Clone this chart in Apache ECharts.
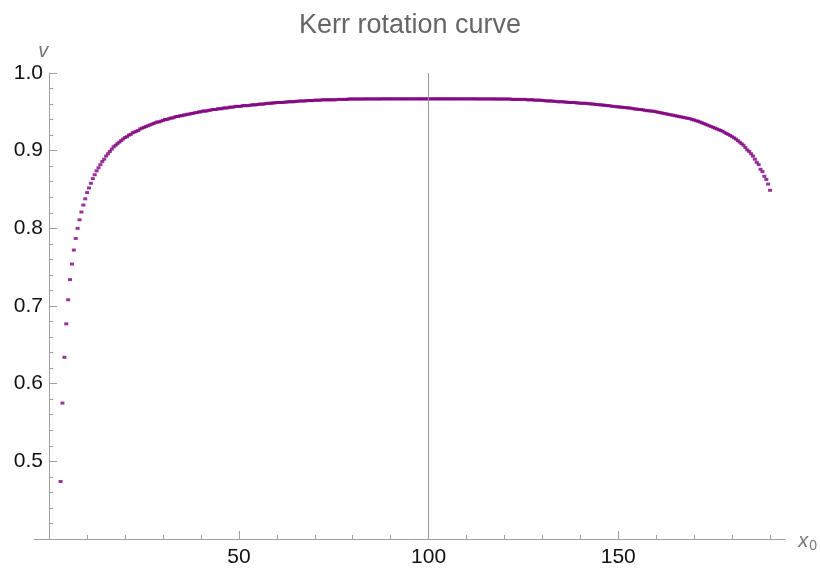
<!DOCTYPE html>
<html>
<head>
<meta charset="utf-8">
<title>Kerr rotation curve</title>
<script src="https://cdn.jsdelivr.net/npm/echarts@6/dist/echarts.min.js"></script>
<style>
  html, body { margin: 0; padding: 0; background: #fff; }
  #chart { width: 820px; height: 570px; }
</style>
</head>
<body>
<div id="chart"></div>
<script>
// Orbital radius x0 of each sample
const x0 = [
  3,3.5,4,4.5,5,5.5,6,6.5,7,7.5,
  8,8.5,9,9.5,10,10.5,11,11.5,12,12.5,
  13,13.5,14,14.5,15,15.5,16,16.5,17,17.5,
  18,18.5,19,19.5,20,20.5,21,21.5,22,22.5,
  23,23.5,24,24.5,25,25.5,26,26.5,27,27.5,
  28,28.5,29,29.5,30,30.5,31,31.5,32,32.5,
  33,33.5,34,34.5,35,35.5,36,36.5,37,37.5,
  38,38.5,39,39.5,40,40.5,41,41.5,42,42.5,
  43,43.5,44,44.5,45,45.5,46,46.5,47,47.5,
  48,48.5,49,49.5,50,50.5,51,51.5,52,52.5,
  53,53.5,54,54.5,55,55.5,56,56.5,57,57.5,
  58,58.5,59,59.5,60,60.5,61,61.5,62,62.5,
  63,63.5,64,64.5,65,65.5,66,66.5,67,67.5,
  68,68.5,69,69.5,70,70.5,71,71.5,72,72.5,
  73,73.5,74,74.5,75,75.5,76,76.5,77,77.5,
  78,78.5,79,79.5,80,80.5,81,81.5,82,82.5,
  83,83.5,84,84.5,85,85.5,86,86.5,87,87.5,
  88,88.5,89,89.5,90,90.5,91,91.5,92,92.5,
  93,93.5,94,94.5,95,95.5,96,96.5,97,97.5,
  98,98.5,99,99.5,100,100.5,101,101.5,102,102.5,
  103,103.5,104,104.5,105,105.5,106,106.5,107,107.5,
  108,108.5,109,109.5,110,110.5,111,111.5,112,112.5,
  113,113.5,114,114.5,115,115.5,116,116.5,117,117.5,
  118,118.5,119,119.5,120,120.5,121,121.5,122,122.5,
  123,123.5,124,124.5,125,125.5,126,126.5,127,127.5,
  128,128.5,129,129.5,130,130.5,131,131.5,132,132.5,
  133,133.5,134,134.5,135,135.5,136,136.5,137,137.5,
  138,138.5,139,139.5,140,140.5,141,141.5,142,142.5,
  143,143.5,144,144.5,145,145.5,146,146.5,147,147.5,
  148,148.5,149,149.5,150,150.5,151,151.5,152,152.5,
  153,153.5,154,154.5,155,155.5,156,156.5,157,157.5,
  158,158.5,159,159.5,160,160.5,161,161.5,162,162.5,
  163,163.5,164,164.5,165,165.5,166,166.5,167,167.5,
  168,168.5,169,169.5,170,170.5,171,171.5,172,172.5,
  173,173.5,174,174.5,175,175.5,176,176.5,177,177.5,
  178,178.5,179,179.5,180,180.5,181,181.5,182,182.5,
  183,183.5,184,184.5,185,185.5,186,186.5,187,187.5,
  188,188.5,189,189.5,190
];

// Circular velocity v at each x0
const v = [
  0.474,0.575,0.634,0.677,0.708,0.734,0.754,0.772,0.787,0.800,
  0.811,0.821,0.830,0.838,0.846,0.852,0.858,0.864,0.869,0.874,
  0.878,0.882,0.886,0.889,0.893,0.896,0.899,0.902,0.905,0.907,
  0.909,0.911,0.913,0.915,0.917,0.918,0.920,0.921,0.923,0.924,
  0.925,0.926,0.928,0.929,0.930,0.931,0.932,0.933,0.934,0.935,
  0.936,0.937,0.937,0.938,0.939,0.940,0.940,0.941,0.942,0.942,
  0.943,0.944,0.944,0.945,0.945,0.946,0.946,0.947,0.947,0.948,
  0.948,0.949,0.949,0.950,0.950,0.951,0.951,0.951,0.952,0.952,
  0.953,0.953,0.953,0.954,0.954,0.954,0.955,0.955,0.955,0.956,
  0.956,0.956,0.957,0.957,0.957,0.957,0.958,0.958,0.958,0.958,
  0.9585,0.959,0.959,0.959,0.9595,0.960,0.960,0.960,0.9605,0.961,
  0.961,0.961,0.9615,0.9615,0.962,0.962,0.962,0.962,0.9625,0.9625,
  0.963,0.963,0.963,0.963,0.9635,0.9635,0.964,0.964,0.964,0.964,
  0.9645,0.9645,0.9645,0.9645,0.965,0.965,0.965,0.965,0.9655,0.9655,
  0.9655,0.9655,0.9655,0.9655,0.9655,0.9655,0.966,0.966,0.966,0.966,
  0.966,0.966,0.9665,0.9665,0.9665,0.9665,0.9665,0.9665,0.9665,0.9665,
  0.9666,0.9666,0.9666,0.9666,0.9666,0.9666,0.9666,0.9666,0.9666,0.9666,
  0.9667,0.9667,0.9667,0.9667,0.9667,0.9667,0.9667,0.9667,0.9667,0.9667,
  0.9667,0.9667,0.9667,0.9667,0.9667,0.9667,0.9667,0.9667,0.9667,0.9667,
  0.9667,0.9667,0.9667,0.9667,0.9667,0.9667,0.9667,0.9667,0.9667,0.9667,
  0.9667,0.9667,0.9667,0.9667,0.9667,0.9667,0.9667,0.9667,0.9667,0.9667,
  0.9667,0.9667,0.9667,0.9667,0.9667,0.9667,0.9667,0.9667,0.9667,0.9667,
  0.9666,0.9666,0.9666,0.9666,0.9666,0.9666,0.9666,0.9666,0.9666,0.9666,
  0.9665,0.9665,0.9665,0.9665,0.9665,0.9665,0.9665,0.9665,0.966,0.966,
  0.966,0.966,0.966,0.966,0.966,0.966,0.9655,0.9655,0.9655,0.9655,
  0.965,0.965,0.965,0.965,0.9645,0.9645,0.964,0.964,0.964,0.964,
  0.9635,0.9635,0.963,0.963,0.963,0.963,0.9625,0.9625,0.962,0.962,
  0.962,0.962,0.9615,0.9615,0.961,0.961,0.961,0.961,0.9605,0.9605,
  0.960,0.960,0.9595,0.9595,0.959,0.959,0.9585,0.9585,0.958,0.958,
  0.9575,0.957,0.957,0.9565,0.9565,0.956,0.956,0.9555,0.9555,0.955,
  0.955,0.9545,0.954,0.9535,0.9535,0.953,0.953,0.9525,0.952,0.9515,
  0.9515,0.951,0.951,0.9505,0.950,0.9495,0.949,0.9485,0.948,0.9475,
  0.947,0.9465,0.946,0.9455,0.945,0.9445,0.944,0.9435,0.943,0.9425,
  0.942,0.9415,0.941,0.940,0.9395,0.9385,0.938,0.937,0.936,0.935,
  0.934,0.933,0.932,0.931,0.930,0.929,0.928,0.927,0.926,0.925,
  0.9235,0.922,0.921,0.9195,0.918,0.9165,0.915,0.913,0.911,0.909,
  0.907,0.904,0.901,0.899,0.896,0.893,0.889,0.885,0.882,0.876,
  0.873,0.867,0.863,0.857,0.849
];

// Tick positions
const xMajorTicks = [50, 100, 150];
const xMinorTicks = [10, 20, 30, 40, 60, 70, 80, 90, 110, 120, 130, 140, 160, 170, 180, 190];
const yMajorTicks = [0.5, 0.6, 0.7, 0.8, 0.9, 1.0];
const yMinorTicks = [0.42, 0.44, 0.46, 0.48, 0.52, 0.54, 0.56, 0.58, 0.62, 0.64, 0.66, 0.68,
                     0.72, 0.74, 0.76, 0.78, 0.82, 0.84, 0.86, 0.88, 0.92, 0.94, 0.96, 0.98];

// Reference radius marked by a vertical rule
const referenceX = 100;

const FONT = '"Liberation Sans", Arial, sans-serif';
const AXIS_GRAY = '#a0a0a0';
const X_RANGE = { min: -4, max: 194 };
const Y_RANGE = { min: 0.4, max: 1.0 };

const points = x0.map((x, i) => [x, v[i]]);

const chart = echarts.init(document.getElementById('chart'), null, { renderer: 'canvas' });

chart.setOption({
  animation: false,
  backgroundColor: '#ffffff',
  title: {
    text: 'Kerr rotation curve',
    left: 'center',
    top: 12,
    padding: 0,
    textStyle: { fontFamily: FONT, fontSize: 27, fontWeight: 'normal', color: '#666666' }
  },
  grid: { left: 34, right: 33, top: 73, bottom: 31 },
  xAxis: [
    {
      type: 'value',
      position: 'bottom',
      min: X_RANGE.min,
      max: X_RANGE.max,
      name: '{x|x}{s|0}',
      nameLocation: 'end',
      nameGap: 13,
      nameTextStyle: {
        rich: {
          x: { fontFamily: FONT, fontStyle: 'italic', fontSize: 20, color: '#777777', padding: [4, 0, 0, 0] },
          s: { fontFamily: FONT, fontSize: 14, color: '#777777', padding: [14, 0, 0, 1] }
        }
      },
      axisLine: { show: true, onZero: false, lineStyle: { color: AXIS_GRAY, width: 1 } },
      axisTick: { show: true, inside: true, length: 8, customValues: xMajorTicks, lineStyle: { color: AXIS_GRAY } },
      axisLabel: { show: true, customValues: xMajorTicks, margin: 8, fontFamily: FONT, fontSize: 21, color: '#111111' },
      splitLine: { show: false }
    },
    {
      type: 'value',
      position: 'bottom',
      min: X_RANGE.min,
      max: X_RANGE.max,
      axisLine: { show: false, onZero: false },
      axisTick: { show: true, inside: true, length: 4, customValues: xMinorTicks, lineStyle: { color: AXIS_GRAY } },
      axisLabel: { show: false },
      splitLine: { show: false }
    }
  ],
  yAxis: [
    {
      type: 'value',
      position: 'left',
      min: Y_RANGE.min,
      max: Y_RANGE.max,
      name: 'v',
      nameLocation: 'end',
      nameGap: 12,
      nameTextStyle: { fontFamily: FONT, fontStyle: 'italic', fontSize: 20, color: '#777777', align: 'right', padding: [0, 1, 0, 0] },
      axisLine: { show: true, onZero: true, onZeroAxisIndex: 0, lineStyle: { color: AXIS_GRAY, width: 1 } },
      axisTick: { show: true, inside: true, length: 8, customValues: yMajorTicks, lineStyle: { color: AXIS_GRAY } },
      axisLabel: {
        show: true, customValues: yMajorTicks, margin: -9,
        fontFamily: FONT, fontSize: 21, color: '#111111',
        formatter: (val) => val.toFixed(1)
      },
      splitLine: { show: false }
    },
    {
      type: 'value',
      position: 'left',
      min: Y_RANGE.min,
      max: Y_RANGE.max,
      axisLine: { show: false, onZero: true, onZeroAxisIndex: 0 },
      axisTick: { show: true, inside: true, length: 4, customValues: yMinorTicks, lineStyle: { color: AXIS_GRAY } },
      axisLabel: { show: false },
      splitLine: { show: false }
    }
  ],
  series: [
    {
      type: 'scatter',
      xAxisIndex: 0,
      yAxisIndex: 0,
      data: points,
      symbol: 'rect',
      symbolSize: [4, 3],
      itemStyle: { color: '#800080' },
      silent: true,
      markLine: {
        silent: true,
        symbol: 'none',
        label: { show: false },
        lineStyle: { color: '#9a9a9a', width: 1, type: 'solid' },
        data: [{ xAxis: referenceX }]
      }
    }
  ]
});
</script>
</body>
</html>
